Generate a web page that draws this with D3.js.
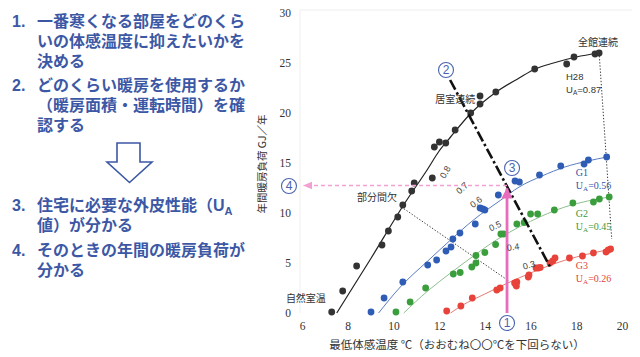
<!DOCTYPE html>
<html lang="ja"><head><meta charset="utf-8">
<script src="https://cdn.jsdelivr.net/npm/d3@7"></script>
<style>
html,body{margin:0;padding:0;background:#fff;}
svg{display:block;}
</style></head>
<body>
<svg id="c" width="640" height="357"></svg>
<script>
// ---------- data ----------
const xTicks = [6, 8, 10, 12, 14, 16, 18, 20];
const yTicks = [0, 5, 10, 15, 20, 25, 30];

const blackPts = [[7.30,0.1],[7.78,2.2],[8.39,4.7],[9.50,6.8],[9.78,8.2],[10.19,9.6],[10.41,10.8],[10.80,12.2],[10.91,13.0],[11.70,13.5],[11.79,16.6],[12.01,17.1],[12.29,17.0],[12.70,18.3],[13.38,20.0],[13.79,20.9],[13.79,21.7],[14.48,22.1],[16.18,24.4],[17.58,24.9],[17.90,25.6],[18.82,25.9],[19.0,26.0]];
const blackFit = [[7.52,0],[9,5.4],[10.5,11.0],[11.5,14.4],[12.0,16.2],[12.5,17.6],[13.4,20.0],[14.5,22.1],[15.5,23.5],[16.2,24.4],[17,25.0],[18,25.6],[19.0,26.0]];

const bluePts = [[9.02,0.1],[9.59,1.5],[10.41,3.1],[11.50,4.8],[11.89,5.3],[12.30,6.2],[12.52,6.6],[12.60,7.4],[12.91,8.0],[13.58,8.9],[13.79,10.5],[13.91,10.4],[14.0,10.3],[14.59,11.8],[15.32,13.2],[15.51,13.1],[16.39,13.8],[17.32,14.7],[18.34,14.9],[18.53,15.3],[19.33,15.6]];
const blueFit = [[9.35,0],[10.3,2.6],[11.5,5.2],[12.5,7.3],[13.5,9.3],[14.7,11.3],[15.5,12.6],[16.5,13.7],[17.5,14.6],[18.5,15.2],[19.35,15.6]];

const greenPts = [[10.11,0.1],[10.73,1.1],[11.41,2.5],[12.62,3.9],[12.92,4.05],[13.43,4.6],[13.61,5.0],[13.61,5.75],[14.0,6.05],[14.47,6.85],[14.70,7.9],[14.82,7.9],[15.40,8.9],[15.72,9.05],[16.0,9.9],[16.31,9.9],[17.04,10.3],[17.85,11.0],[18.75,11.1],[19.01,11.4],[19.44,11.6]];
const greenFit = [[10.45,0],[11.5,2.2],[12.5,4.0],[13.5,5.7],[14.5,7.3],[15.5,8.6],[16.5,9.7],[17.5,10.6],[18.5,11.2],[19.45,11.6]];

const redPts = [[12.33,0.2],[12.95,0.7],[13.45,1.5],[14.52,2.3],[14.67,2.5],[15.30,3.0],[15.40,3.1],[15.35,2.85],[15.38,2.7],[15.90,3.6],[15.93,3.8],[16.24,4.5],[16.34,4.5],[16.42,4.55],[16.85,5.0],[16.97,5.2],[17.07,5.5],[17.70,5.5],[18.27,5.7],[18.75,6.0],[19.30,6.1],[19.40,6.3],[19.50,6.4]];
const redFit = [[12.5,0],[13,0.75],[14,1.9],[15,3.0],[16,4.0],[17,4.9],[18,5.6],[19.55,6.4]];

const dashDotLine = [[12.48,23.3],[16.88,4.5]];
const dottedPartial = [[10.35,10.6],[15.05,3.2]];
const dottedFull = [[19.0,26.0],[19.26,17.3],[19.55,7.4]];
const pinkUp = [[14.97,0],[14.97,12.45]];
const pinkLeft = [[14.97,12.75],[6.08,12.75]];

const uaLabels = ["0.8","0.7","0.6","0.5","0.4","0.3"];
const uaPos = [[12.26,14.1],[13.0,12.5],[13.61,11.1],[14.45,8.7],[15.23,6.6],[15.93,4.8]];
const uaRot = [-60,-42,-35,-25,-8,-15];

const noteText = ["全館連続","居室連続","部分間欠","自然室温"];
const notePos = [[18.95,27.1],[12.70,21.4],[9.28,11.6],[6.17,1.5]];

const groupNames = ["G1","G2","G3"];
const groupUA = ["0.56","0.45","0.26"];
const groupPos = [[17.98,14.05],[17.98,9.95],[17.98,4.75]];

const circledNums = ["1","2","3","4"];
const circledPos = [[14.97,-1.0],[12.30,24.3],[15.19,14.5],[5.43,12.7]];

const stepText = [
  ["1.", "一番寒くなる部屋をどのくら"], ["", "いの体感温度に抑えたいかを"], ["", "決める"],
  ["2.", "どのくらい暖房を使用するか"], ["", "（暖房面積・運転時間）を確"], ["", "認する"],
  ["3.", "住宅に必要な外皮性能（U"], ["", "値）が分かる"],
  ["4.", "そのときの年間の暖房負荷が"], ["", "分かる"]
];
const stepY = [21.5, 41.5, 61.5, 85.5, 105.5, 125.5, 205, 225, 250.5, 270.5];

const xTitle = "最低体感温度 ℃（おおむね〇〇℃を下回らない）";
const yTitle = "年間暖房負荷 GJ／年";

// ---------- drawing ----------
const svg = d3.select("#c");
const x = d3.scaleLinear().domain([6, 20]).range([302, 622]);
const y = d3.scaleLinear().domain([0, 30]).range([313, 13]);
const line = d3.line().x(d => x(d[0])).y(d => y(d[1]));
const curve = d3.line().x(d => x(d[0])).y(d => y(d[1])).curve(d3.curveMonotoneX);

const BLUE_TXT = "#3c58a5";
const JP = "'Noto Sans CJK JP','Noto Sans',sans-serif";
const JP_TIGHT = "'Liberation Sans','Noto Sans CJK JP',sans-serif";

// left-hand text
const tg = svg.append("g").attr("font-family", JP_TIGHT).attr("font-weight", "bold")
  .attr("font-size", 16).attr("fill", BLUE_TXT);
stepText.forEach((s, i) => {
  if (s[0]) tg.append("text").attr("x", 12).attr("y", stepY[i]).attr("dy", "0.36em").text(s[0]);
  const t = tg.append("text").attr("x", 37).attr("y", stepY[i]).attr("dy", "0.36em").text(s[1]);
  if (i === 6) t.append("tspan").attr("font-size", 11).attr("dy", 4).text("A");
});
// hollow down arrow
svg.append("path")
  .attr("d", "M117,143 L140,143 L140,162 L152,162 L129.5,182.5 L107,162 L117,162 Z")
  .attr("fill", "#fff").attr("stroke", BLUE_TXT).attr("stroke-width", 1.6);

// faint frame
svg.append("line").attr("x1", 300).attr("x2", 300).attr("y1", 10).attr("y2", 313).attr("stroke", "#eeeeee");
svg.append("line").attr("x1", 300).attr("x2", 632).attr("y1", 10).attr("y2", 10).attr("stroke", "#eeeeee");

// axes
const xa = svg.append("g").attr("transform", "translate(0,313)")
  .call(d3.axisBottom(x).tickValues(xTicks).tickSize(0).tickPadding(9).tickFormat(d3.format("d")));
const ya = svg.append("g").attr("transform", "translate(300,0)")
  .call(d3.axisLeft(y).tickValues(yTicks).tickSize(0).tickPadding(9).tickFormat(d3.format("d")));
[xa, ya].forEach(a => {
  a.select(".domain").remove();
  a.selectAll("text").attr("font-family", "'Liberation Serif',serif").attr("font-size", 11.5).attr("fill", "#333");
});
svg.append("text").attr("x", 457).attr("y", 345).attr("dy", "0.35em").attr("text-anchor", "middle")
  .attr("font-family", JP).attr("font-size", 11.5).attr("fill", "#333").text(xTitle);
svg.append("text").attr("transform", "translate(262,164) rotate(-90)").attr("dy", "0.35em")
  .attr("text-anchor", "middle").attr("font-family", JP).attr("font-size", 10.5).attr("fill", "#333").text(yTitle);

// guide lines
svg.append("path").attr("d", line(dottedPartial)).attr("fill", "none").attr("stroke", "#333")
  .attr("stroke-width", 1).attr("stroke-dasharray", "1.3,1.8");
svg.append("path").attr("d", line(dottedFull)).attr("fill", "none").attr("stroke", "#333")
  .attr("stroke-width", 1).attr("stroke-dasharray", "1.3,1.8");

// fit curves
const series = [
  {pts: blackPts, fit: blackFit, dot: "#333333", ln: "#222222", w: 1.2},
  {pts: bluePts, fit: blueFit, dot: "#2f5cb4", ln: "#5a7cc0", w: 1},
  {pts: greenPts, fit: greenFit, dot: "#3a9e3c", ln: "#8fc08f", w: 1},
  {pts: redPts, fit: redFit, dot: "#e8433a", ln: "#e67a74", w: 1}
];
series.forEach(s => {
  svg.append("path").attr("d", curve(s.fit)).attr("fill", "none").attr("stroke", s.ln).attr("stroke-width", s.w);
});
series.forEach(s => {
  svg.append("g").selectAll("circle").data(s.pts).join("circle")
    .attr("cx", d => x(d[0])).attr("cy", d => y(d[1])).attr("r", 3.4).attr("fill", s.dot);
});

// thick dash-dot line
svg.append("path").attr("d", line(dashDotLine)).attr("fill", "none").attr("stroke", "#111")
  .attr("stroke-width", 2.6).attr("stroke-dasharray", "11,3,2.5,3");

// pink arrows
const defs = svg.append("defs");
defs.append("marker").attr("id", "pk").attr("viewBox", "0 0 10 10").attr("refX", 9).attr("refY", 5)
  .attr("markerWidth", 4).attr("markerHeight", 4).attr("orient", "auto")
  .append("path").attr("d", "M0,0 L10,5 L0,10 Z").attr("fill", "#e86bbd");
defs.append("marker").attr("id", "pk2").attr("viewBox", "0 0 10 10").attr("refX", 9).attr("refY", 5)
  .attr("markerWidth", 7).attr("markerHeight", 7).attr("orient", "auto")
  .append("path").attr("d", "M0,1 L10,5 L0,9 Z").attr("fill", "#f29fd3");
svg.append("path").attr("d", line(pinkUp)).attr("stroke", "#e86bbd").attr("stroke-width", 2.8)
  .attr("fill", "none").attr("marker-end", "url(#pk)");
svg.append("path").attr("d", line(pinkLeft)).attr("stroke", "#f29fd3").attr("stroke-width", 1.3)
  .attr("fill", "none").attr("stroke-dasharray", "4,3").attr("marker-end", "url(#pk2)");

// UA labels along the thick line
uaLabels.forEach((t, i) => {
  svg.append("text").attr("transform", `translate(${x(uaPos[i][0])},${y(uaPos[i][1])}) rotate(${uaRot[i]})`)
    .attr("text-anchor", "middle").attr("dy", "0.35em").attr("font-family", "'Liberation Sans',sans-serif")
    .attr("font-size", 9).attr("fill", "#444").text(t);
});

// notes
noteText.forEach((t, i) => {
  svg.append("text").attr("x", x(notePos[i][0])).attr("y", y(notePos[i][1])).attr("dy", "0.35em")
    .attr("text-anchor", "middle").attr("font-family", JP).attr("font-size", 10).attr("fill", "#333").text(t);
});
// H28 label
const h = svg.append("g").attr("font-family", "'Liberation Sans',sans-serif").attr("font-size", 9.5).attr("fill", "#333");
h.append("text").attr("x", x(17.55)).attr("y", y(23.65)).attr("dy", "0.35em").text("H28");
const hu = h.append("text").attr("x", x(17.55)).attr("y", y(22.35)).attr("dy", "0.35em").text("U");
hu.append("tspan").attr("font-size", 6.5).attr("dy", 2).text("A");
hu.append("tspan").attr("dy", -2).text("=0.87");

// group labels
const gCol = ["#2f55a6", "#3b983d", "#e2443a"];
groupNames.forEach((g, i) => {
  const gg = svg.append("g").attr("font-family", "'Liberation Serif',serif").attr("font-size", 10).attr("fill", gCol[i]);
  gg.append("text").attr("x", x(groupPos[i][0])).attr("y", y(groupPos[i][1])).attr("dy", "0.35em").text(g);
  const u = gg.append("text").attr("x", x(groupPos[i][0])).attr("y", y(groupPos[i][1] - 1.25)).attr("dy", "0.35em").text("U");
  u.append("tspan").attr("font-size", 7).attr("dy", 2).text("A");
  u.append("tspan").attr("dy", -2).text("=" + groupUA[i]);
});

// circled numbers
circledNums.forEach((n, i) => {
  const cx = x(circledPos[i][0]), cy = y(circledPos[i][1]);
  svg.append("circle").attr("cx", cx).attr("cy", cy).attr("r", 7.5).attr("fill", "#fff")
    .attr("stroke", "#4a63b0").attr("stroke-width", 1.1);
  svg.append("text").attr("x", cx).attr("y", cy).attr("dy", "0.36em").attr("text-anchor", "middle")
    .attr("font-family", "'Liberation Sans',sans-serif").attr("font-size", 12).attr("fill", "#4a63b0").text(n);
});
</script>
</body></html>
